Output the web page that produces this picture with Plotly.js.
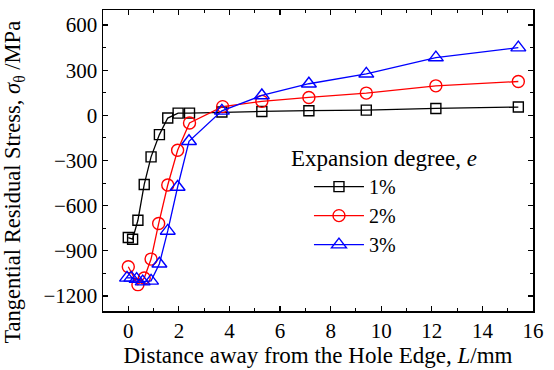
<!DOCTYPE html>
<html>
<head>
<meta charset="utf-8">
<script src="https://cdn.plot.ly/plotly-3.0.1.min.js"></script>
<style>
html,body{margin:0;padding:0;background:#fff;}
#chart{width:554px;height:370px;}
</style>
</head>
<body>
<div id="chart"></div>
<script>
// Data
const seriesNames = ['1%', '2%', '3%'];
const x1 = [0, 0.17, 0.38, 0.63, 0.9, 1.23, 1.56, 1.97, 2.42, 3.7, 5.28, 7.14, 9.41, 12.16, 15.42];
const y1 = [-812, -823, -697, -459, -276, -128, -18, 15, 15, 22, 26, 31, 35, 46, 55];
const x2 = [0, 0.38, 0.63, 0.9, 1.2, 1.56, 1.95, 2.42, 3.73, 5.28, 7.14, 9.41, 12.16, 15.42];
const y2 = [-1006, -1125, -1081, -955, -719, -463, -232, -51, 58, 93, 119, 148, 196, 225];
const x3 = [-0.05, 0.12, 0.33, 0.57, 0.9, 1.23, 1.56, 1.95, 2.4, 3.7, 5.28, 7.14, 9.41, 12.16, 15.42];
const y3 = [-1080, -1080, -1088, -1105, -1100, -986, -768, -476, -172, 30, 132, 210, 276, 384, 450];
const xTicks = [0, 2, 4, 6, 8, 10, 12, 14, 16];
const yTicks = [-1200, -900, -600, -300, 0, 300, 600];
const yTickText = ['\u22121200', '\u2212900', '\u2212600', '\u2212300', '0', '300', '600'];
const legendTitle = 'Expansion degree, <i>e</i>';
const xTitle = 'Distance away from the Hole Edge, <i>L</i>/mm';
const yTitle = 'Tangential Residual Stress, <i>σ</i><sub>θ</sub> /MPa';

const FONT = 'Liberation Serif';

const traces = [
  {x: x1, y: y1, name: seriesNames[0], mode: 'lines+markers', type: 'scatter',
   line: {color: '#000000', width: 1.3},
   marker: {symbol: 'square-open', size: 10, color: '#000000', line: {width: 1.4}}},
  {x: x2, y: y2, name: seriesNames[1], mode: 'lines+markers', type: 'scatter',
   line: {color: '#ff0000', width: 1.3},
   marker: {symbol: 'circle-open', size: 12, color: '#ff0000', line: {width: 1.4}}},
  {x: x3, y: y3, name: seriesNames[2], mode: 'lines+markers', type: 'scatter',
   line: {color: '#0000ff', width: 1.3},
   marker: {symbol: 'triangle-up-open', size: 13, color: '#0000ff', line: {width: 1.4}}}
];

const layout = {
  width: 554, height: 370,
  margin: {l: 103, r: 21, t: 10, b: 59},
  paper_bgcolor: '#ffffff', plot_bgcolor: '#ffffff',
  font: {family: FONT, color: '#000000', size: 21},
  showlegend: true,
  legend: {
    x: 0.479, y: 0.478, xanchor: 'left', yanchor: 'top',
    bgcolor: 'rgba(0,0,0,0)', borderwidth: 0,
    font: {family: FONT, size: 20, color: '#000'},
    itemwidth: 50, tracegroupgap: 0
  },
  annotations: [
    {text: legendTitle, xref: 'paper', yref: 'paper', x: 0.4326, y: 0.508,
     xanchor: 'left', yanchor: 'middle', showarrow: false,
     font: {family: FONT, size: 23, color: '#000'}},
    {text: yTitle, xref: 'paper', yref: 'paper', x: -0.207, y: 0.43,
     xanchor: 'center', yanchor: 'middle', textangle: -90, showarrow: false,
     font: {family: FONT, size: 22.5, color: '#000'}}
  ],
  xaxis: {
    range: [-1, 16], tickvals: xTicks, ticktext: xTicks.map(String),
    ticks: 'inside', ticklen: 5, tickwidth: 1.2, tickcolor: '#000',
    minor: {dtick: 1, ticks: 'inside', ticklen: 3, tickwidth: 1, tickcolor: '#000', showgrid: false},
    showline: true, linecolor: '#000', linewidth: 1.5, mirror: 'ticks',
    showgrid: false, zeroline: false,
    tickfont: {family: FONT, size: 21, color: '#000'},
    title: {text: xTitle, font: {family: FONT, size: 23, color: '#000'}, standoff: 3}
  },
  yaxis: {
    range: [-1300, 700], tickvals: yTicks, ticktext: yTickText,
    ticks: 'inside', ticklen: 5, tickwidth: 1.2, tickcolor: '#000',
    minor: {dtick: 150, ticks: 'inside', ticklen: 3, tickwidth: 1, tickcolor: '#000', showgrid: false},
    showline: true, linecolor: '#000', linewidth: 1.5, mirror: 'ticks',
    showgrid: false, zeroline: false,
    tickfont: {family: FONT, size: 21, color: '#000'}
  }
};

Plotly.newPlot('chart', traces, layout, {staticPlot: true, displayModeBar: false});
</script>
</body>
</html>
